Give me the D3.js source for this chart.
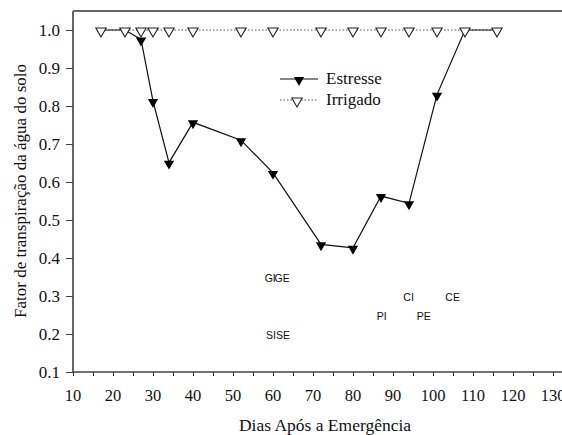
<!DOCTYPE html>
<html>
<head>
<meta charset="utf-8">
<script src="https://cdn.jsdelivr.net/npm/d3@7"></script>
<style>
  body { margin: 0; background: #fff; }
  svg { display: block; }
</style>
</head>
<body>
<div class="container"></div>
<script>
// dias apos a emergencia
const dias = [17, 23, 27, 30, 34, 40, 52, 60, 72, 80, 87, 94, 101, 108, 116];
const estresse = [1.0, 1.0, 0.975, 0.813, 0.651, 0.757, 0.710, 0.624, 0.436, 0.427, 0.563, 0.544, 0.830, 1.0, 1.0];
const irrigado = [1.0, 1.0, 1.0, 1.0, 1.0, 1.0, 1.0, 1.0, 1.0, 1.0, 1.0, 1.0, 1.0, 1.0, 1.0];
const xTicks = [10, 20, 30, 40, 50, 60, 70, 80, 90, 100, 110, 120, 130];
const yTicks = [0.1, 0.2, 0.3, 0.4, 0.5, 0.6, 0.7, 0.8, 0.9, 1.0];
const series = ['Estresse', 'Irrigado'];
// fases fenologicas
const fases = [
  { label: 'GI', dia: 59.3, valor: 0.345 },
  { label: 'GE', dia: 62.3, valor: 0.345 },
  { label: 'SI', dia: 59.5, valor: 0.195 },
  { label: 'SE', dia: 62.5, valor: 0.195 },
  { label: 'PI', dia: 87.2, valor: 0.245 },
  { label: 'CI', dia: 93.9, valor: 0.295 },
  { label: 'PE', dia: 97.7, valor: 0.245 },
  { label: 'CE', dia: 104.9, valor: 0.295 }
];

const width = 562;
const height = 435;
const margin = { top: 11, right: 9, bottom: 63, left: 73 };

const serif = "'Liberation Serif', 'Times New Roman', serif";
const sans = "'Liberation Sans', Arial, sans-serif";

const svg = d3
  .select('.container')
  .append('svg')
  .attr('width', width)
  .attr('height', height);

const x = d3.scaleLinear().domain([10, 130]).range([margin.left, width - margin.right]);
const y = d3.scaleLinear().domain([0.1, 1.05]).range([height - margin.bottom, margin.top]);

// top frame line
svg.append('line')
  .attr('x1', margin.left).attr('x2', width + 5)
  .attr('y1', y(1.05)).attr('y2', y(1.05))
  .attr('stroke', '#666').attr('stroke-width', 2);

// x axis
const xAxis = svg.append('g')
  .attr('transform', `translate(0, ${y(0.1)})`)
  .call(d3.axisBottom(x).tickValues(d3.range(10, 131, 5)).tickSize(4).tickFormat(''));
xAxis.select('.domain').attr('stroke', '#444').attr('stroke-width', 1.5).attr('d', `M${margin.left},0H${width + 5}`);
xAxis.selectAll('.tick line').attr('stroke', '#333');

svg.append('g')
  .selectAll('text')
  .data(xTicks)
  .join('text')
  .attr('x', (d) => x(d))
  .attr('y', y(0.1) + 29)
  .attr('text-anchor', 'middle')
  .style('font-family', serif)
  .style('font-size', '16.5px')
  .attr('fill', '#111')
  .text((d) => d);

// y axis
const yAxis = svg.append('g')
  .attr('transform', `translate(${margin.left}, 0)`)
  .call(d3.axisLeft(y).tickValues(yTicks).tickSize(7).tickPadding(6).tickFormat(d3.format('.1f')));
yAxis.select('.domain').attr('stroke', '#666').attr('stroke-width', 2).attr('d', `M0,${y(1.05)}V${y(0.1)}`);
yAxis.selectAll('.tick line').attr('stroke', '#444');
yAxis.selectAll('.tick text')
  .style('font-family', serif)
  .style('font-size', '17px')
  .attr('fill', '#111');

// axis titles
svg.append('text')
  .attr('x', 325)
  .attr('y', 431)
  .attr('text-anchor', 'middle')
  .style('font-family', serif)
  .style('font-size', '17.5px')
  .attr('fill', '#111')
  .text('Dias Após a Emergência');

svg.append('text')
  .attr('transform', 'translate(26, 191) rotate(-90)')
  .attr('text-anchor', 'middle')
  .style('font-family', serif)
  .style('font-size', '17px')
  .attr('fill', '#111')
  .text('Fator de transpiração da água do solo');

const triPath = d3.symbol().type(d3.symbolTriangle).size(46)();

// series lines
const line = d3.line().x((d, i) => x(dias[i])).y((d) => y(d));
svg.append('path')
  .datum(irrigado)
  .attr('fill', 'none')
  .attr('stroke', '#555')
  .attr('stroke-width', 1)
  .attr('stroke-dasharray', '1.5,2')
  .attr('d', line);

svg.append('path')
  .datum(estresse)
  .attr('fill', 'none')
  .attr('stroke', '#111')
  .attr('stroke-width', 1.2)
  .attr('d', line);

svg.append('g')
  .selectAll('path')
  .data(estresse)
  .join('path')
  .attr('transform', (d, i) => `translate(${x(dias[i])}, ${y(d) + 1}) rotate(180)`)
  .attr('d', triPath)
  .attr('fill', '#000');

svg.append('g')
  .selectAll('path')
  .data(irrigado)
  .join('path')
  .attr('transform', (d, i) => `translate(${x(dias[i])}, ${y(d) + 1}) rotate(180)`)
  .attr('d', triPath)
  .attr('fill', '#fff')
  .attr('stroke', '#222')
  .attr('stroke-width', 1.1);

// legend
const legend = svg.append('g').attr('transform', 'translate(280, 79)');
legend.append('line').attr('x1', 0).attr('x2', 38).attr('y1', 0).attr('y2', 0).attr('stroke', '#111').attr('stroke-width', 1.2);
legend.append('path').attr('transform', 'translate(19, 1) rotate(180)').attr('d', triPath).attr('fill', '#000');
legend.append('line').attr('x1', 0).attr('x2', 38).attr('y1', 21).attr('y2', 21).attr('stroke', '#555').attr('stroke-dasharray', '1.5,2');
legend.append('path').attr('transform', 'translate(17, 22) rotate(180)').attr('d', triPath).attr('fill', '#fff').attr('stroke', '#222').attr('stroke-width', 1.1);
legend.selectAll('text.lbl')
  .data(series)
  .join('text')
  .attr('class', 'lbl')
  .attr('x', 46)
  .attr('y', (d, i) => i * 21 + 5)
  .style('font-family', serif)
  .style('font-size', '17px')
  .attr('fill', '#111')
  .text((d) => d);

// phase labels
svg.append('g')
  .selectAll('text')
  .data(fases)
  .join('text')
  .attr('x', (d) => x(d.dia))
  .attr('y', (d) => y(d.valor))
  .attr('text-anchor', 'middle')
  .attr('dominant-baseline', 'middle')
  .style('font-family', sans)
  .style('font-size', '10.5px')
  .attr('fill', '#111')
  .text((d) => d.label);
</script>
</body>
</html>
